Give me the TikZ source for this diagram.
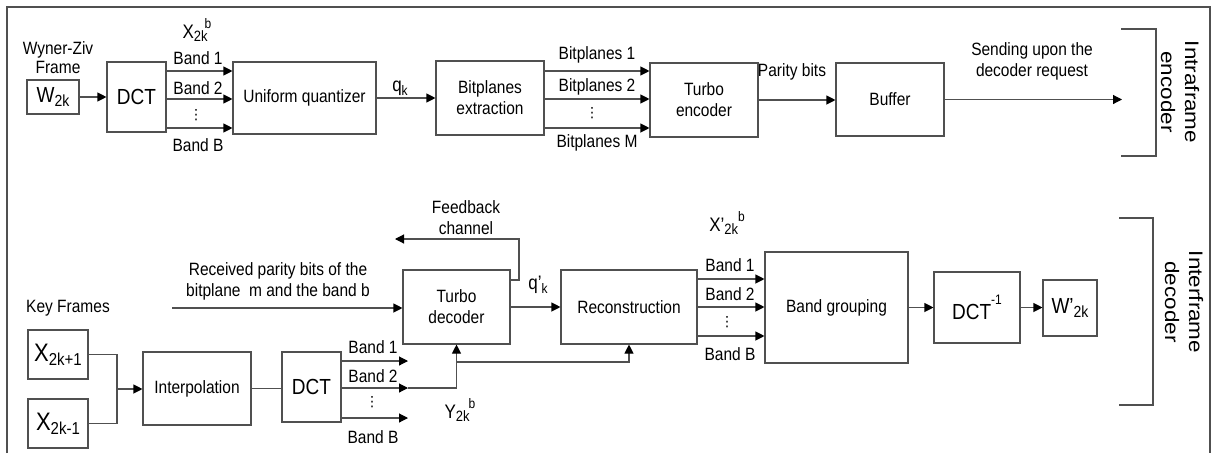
\documentclass[tikz,border=0pt]{standalone}
\usepackage{fontspec}
\setmainfont{Liberation Sans}
\newfontfamily\symfont{DejaVu Sans}
\usepackage{graphicx}
\usetikzlibrary{arrows.meta}
\definecolor{lc}{HTML}{505050}
% text is set slightly taller than wide
\newcommand\vs[1]{\scalebox{1}[1.15]{#1}}
\newcommand\hs[1]{\scalebox{1.15}[1]{#1}}
\newcommand\sbs[2][13]{\raisebox{-0.4ex}{\fontsize{#1}{#1}\selectfont #2}}
\newcommand\sps[2][12]{\raisebox{1.05ex}{\fontsize{#1}{#1}\selectfont #2}}
\newcommand\vdt{{\symfont\fontsize{14}{14}\selectfont ⋮}}
\begin{document}
\begin{tikzpicture}[x=1pt,y=-1pt,
  box/.style={draw=lc, line width=1.1pt, inner sep=0pt, align=center, font=\fontsize{15.5}{21}\selectfont},
  lab/.style={inner sep=0pt, align=center, font=\fontsize{15.5}{21}\selectfont},
  big/.style={font=\fontsize{19}{21}\selectfont},
  ln/.style={draw=lc, line width=1.1pt},
  arr/.style={ln, -{Triangle[length=9pt,width=9pt,color=black]}},
]
\useasboundingbox (0,0) rectangle (1215,453);

% outer frame
\draw[ln] (7,453) -- (7,7) -- (1210,7) -- (1210,453);

% ---------------- intraframe encoder ----------------
\node[box, big, minimum width=52pt, minimum height=34pt] (W) at (53,97) {\vs{W\sbs[14]{2k}}};
\node[box, big, minimum width=59pt, minimum height=70pt] (dct1) at (136.5,97) {\vs{DCT}};
\node[box, minimum width=143pt, minimum height=72pt] (uq) at (304.5,98) {\vs{Uniform quantizer}};
\node[box, minimum width=108pt, minimum height=74pt] (bpe) at (490,98) {\vs{Bitplanes}\\\vs{extraction}};
\node[box, minimum width=108pt, minimum height=74pt] (tenc) at (704,100) {\vs{Turbo}\\\vs{encoder}};
\node[box, minimum width=108pt, minimum height=73pt] (buf) at (890,99.5) {\vs{Buffer}};

\coordinate (ya) at (0,71);
\coordinate (yb) at (0,99);
\coordinate (yc) at (0,128);
\coordinate (send) at (1122,99.5);

\draw[arr] (W) -- (dct1);
\draw[arr] (dct1.east |- ya) -- (uq.west |- ya);
\draw[arr] (dct1.east |- yb) -- (uq.west |- yb);
\draw[arr] (dct1.east |- yc) -- (uq.west |- yc);
\draw[arr] (uq.east) -- (bpe.west |- uq.east);
\draw[arr] (bpe.east |- ya) -- (tenc.west |- ya);
\draw[arr] (bpe.east |- yb) -- (tenc.west |- yb);
\draw[arr] (bpe.east |- yc) -- (tenc.west |- yc);
\draw[arr] (tenc.east) -- (buf.west |- tenc.east);
\draw[arr] (buf.east) -- (send);

\node[lab, font=\fontsize{15.5}{19}\selectfont] (wz) at (58,57.5) {\vs{Wyner-Ziv}\\\vs{Frame}};
\node[lab] (xb) at (197,30) {\vs{{\fontsize{17}{17}\selectfont X}\sbs{2k}\kern-3pt\sps{b}}};
\node[lab] (eb1) at (198,58) {\vs{Band 1}};
\node[lab] (eb2) at (198,88) {\vs{Band 2}};
\node[lab] (eb3) at (196,115) {\vdt};
\node[lab] (eb4) at (198,145) {\vs{Band B}};
\node[lab] (qk) at (400,88) {\vs{{\fontsize{17}{17}\selectfont q}\sbs[12]{k}}};
\node[lab] (bp1) at (597,55) {\vs{Bitplanes 1}};
\node[lab] (bp2) at (597,87) {\vs{Bitplanes 2}};
\node[lab] (bp3) at (592,113) {\vdt};
\node[lab] (bp4) at (597,143) {\vs{Bitplanes M}};
\node[lab] (par) at (792,72) {\vs{Parity bits}};
\node[lab] (snd) at (1032,61) {\vs{Sending upon the}\\\vs{decoder request}};

\draw[ln] (1121,29) -- (1156,29) -- (1156,156) -- (1121,156);
\node[lab, rotate=-90, font=\fontsize{19.5}{24}\selectfont] (enc) at (1180,92) {\hs{Intraframe}\\\hs{encoder}};

% ---------------- interframe decoder ----------------
\node[box, minimum width=107pt, minimum height=74pt] (tdec) at (456.5,307) {\vs{Turbo}\\\vs{decoder}};
\node[box, minimum width=136pt, minimum height=74pt] (recon) at (629,307) {\vs{Reconstruction}};
\node[box, minimum width=143pt, minimum height=111pt] (bg) at (836.5,307.5) {\vs{Band grouping}};
\node[box, big, minimum width=86pt, minimum height=71pt] (dcti) at (977,307.5) {\vs{DCT\raisebox{0.3ex}{\sps[12]{-1}}}};
\node[box, big, minimum width=54pt, minimum height=56pt] (wo) at (1070,308) {\vs{W’\sbs[14]{2k}}};
\node[box, minimum width=60pt, minimum height=49pt] (x1) at (58,354.5) {\vs{{\fontsize{22}{22}\selectfont X}\sbs[15]{2k+1}}};
\node[box, minimum width=60pt, minimum height=49pt] (x2) at (58,423.5) {\vs{{\fontsize{22}{22}\selectfont X}\sbs[15]{2k-1}}};
\node[box, minimum width=108pt, minimum height=73pt] (interp) at (197,388.5) {\vs{Interpolation}};
\node[box, big, minimum width=59pt, minimum height=70pt] (dct2) at (311.5,387) {\vs{DCT}};

% feedback channel
\coordinate (fba) at (519,280);
\coordinate (fbb) at (519,239);
\coordinate (fbend) at (395,239);
\draw[arr] (tdec.east |- fba) -- (fba) -- (fbb) -- (fbend);
\node[lab] (fbl) at (466,218) {\vs{Feedback}\\\vs{channel}};

% received parity bits
\coordinate (rxs) at (172,308);
\draw[arr] (rxs) -- (tdec.west |- rxs);
\node[lab] (rx) at (278,281) {\vs{Received parity bits of the}\\\vs{bitplane\ \ m and the band b}};

% key frames and side information
\node[lab] (kf) at (68,308) {\vs{Key Frames}};
\coordinate (jn) at (117,389);
\draw[ln] (x1.east) -| (jn);
\draw[ln] (x2.east) -| (jn);
\draw[arr] (jn) -- (interp.west |- jn);
\draw[ln] (interp.east) -- (dct2.west |- interp.east);

\coordinate (yd) at (0,361);
\coordinate (ye) at (0,388);
\coordinate (yf) at (0,418);
\coordinate (yg) at (0,362);
\coordinate (bend) at (408,0);
\draw[arr] (dct2.east |- yd) -- (bend |- yd);
\draw[arr] (dct2.east |- ye) -- (bend |- ye);
\draw[arr] (dct2.east |- yf) -- (bend |- yf);
\draw[arr] (bend |- ye) -- (tdec.south |- ye) -- (tdec.south);
\draw[arr] (tdec.south |- yg) -| (recon.south);

\node[lab] (db1) at (373,347) {\vs{Band 1}};
\node[lab] (db2) at (373,376) {\vs{Band 2}};
\node[lab] (db3) at (372,402) {\vdt};
\node[lab] (db4) at (373,437) {\vs{Band B}};
\node[lab] (yb2) at (460,410) {\vs{{\fontsize{17}{17}\selectfont Y}\sbs{2k}\kern-1pt\sps{b}}};

% reconstruction and output
\draw[arr] (tdec.east) -- (recon.west |- tdec.east);
\node[lab] (qp) at (538,285) {\vs{{\fontsize{17}{17}\selectfont q’}\sbs[12]{k}}};

\coordinate (yh) at (0,279);
\coordinate (yi) at (0,307);
\coordinate (yj) at (0,336);
\draw[arr] (recon.east |- yh) -- (bg.west |- yh);
\draw[arr] (recon.east |- yi) -- (bg.west |- yi);
\draw[arr] (recon.east |- yj) -- (bg.west |- yj);
\node[lab] (rb1) at (730,265) {\vs{Band 1}};
\node[lab] (rb2) at (730,294) {\vs{Band 2}};
\node[lab] (rb3) at (727,322) {\vdt};
\node[lab] (rb4) at (730,354) {\vs{Band B}};
\node[lab] (xp) at (727,223) {\vs{{\fontsize{17}{17}\selectfont X’}\sbs{2k}\sps{b}}};

\draw[arr] (bg.east) -- (dcti.west |- bg.east);
\draw[arr] (dcti.east) -- (wo.west |- dcti.east);

\draw[ln] (1119,218) -- (1153,218) -- (1153,405) -- (1119,405);
\node[lab, rotate=-90, font=\fontsize{19.5}{24}\selectfont] (dec) at (1184,302) {\hs{Interframe}\\\hs{decoder}};
\end{tikzpicture}
\end{document}
